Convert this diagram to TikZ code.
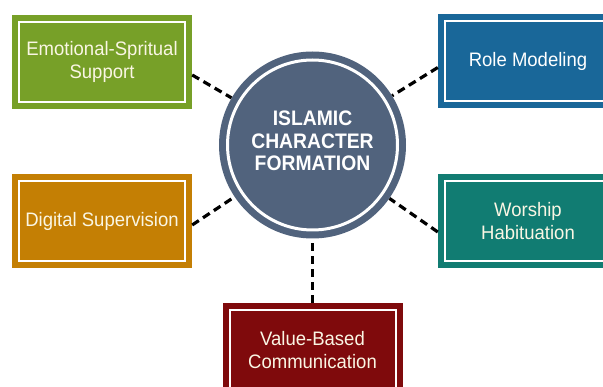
\documentclass[tikz,border=0pt]{standalone}
\usepackage{fontspec}
\setmainfont{Liberation Sans}
\newfontfamily\hubfont[FakeStretch=0.92]{Liberation Sans}
\newfontfamily\cardfont[FakeStretch=0.95]{Liberation Sans}
\definecolor{slate}{RGB}{81,99,125}
\definecolor{leaf}{RGB}{119,160,40}
\definecolor{ocean}{RGB}{25,103,153}
\definecolor{amber}{RGB}{196,127,4}
\definecolor{teal2}{RGB}{17,124,114}
\definecolor{maroon2}{RGB}{127,10,12}
\definecolor{cream}{RGB}{250,246,228}
\begin{document}
\begin{tikzpicture}[x=1pt,y=-1pt,
  card/.style={rectangle, fill=#1, minimum width=180pt, minimum height=94pt,
    inner sep=0pt, align=center, text=cream,
    font=\cardfont\fontsize{19.5}{22.5}\selectfont,
    path picture={\draw[white, line width=2pt]
      ([shift={(7pt,7pt)}]path picture bounding box.south west) rectangle
      ([shift={(-7pt,-7pt)}]path picture bounding box.north east);}},
  link/.style={draw=black, line width=3.2pt, dash pattern=on 8pt off 5pt},
  hub/.style={circle, fill=slate, minimum size=187pt, inner sep=0pt},
  hubtext/.style={align=center, text=white,
    font=\hubfont\bfseries\fontsize{21}{22.5}\selectfont}
]
\useasboundingbox (0,0) rectangle (603,387);
\fill[white] (0,0) rectangle (603,387);
\clip (0,0) rectangle (603,387);

% central hub
\node[hub] (c) at (312.5,145) {};
\draw[white, line width=3pt] (c.center) circle[radius=85pt];
\node[hubtext] (t) at (312.5,141) {ISLAMIC\\CHARACTER\\FORMATION};

% surrounding cards
\node[card=leaf] (emo) at (102,62) {Emotional-Spritual\\Support};
\node[card=ocean, text=white] (role) at (528,61.5) {Role Modeling};
\node[card=amber] (dig) at (102,221) {Digital Supervision};
\node[card=teal2] (wor) at (528,221) {Worship\\Habituation};
\node[card=maroon2] (val) at (312.5,350) {Value-Based\\Communication};

% dashed links to the hub
\draw[link] ([yshift=-13pt]emo.east) -- (c);
\draw[link] ([yshift=-6pt]role.west) -- (c);
\draw[link] ([yshift=-4pt]dig.east) -- (c);
\draw[link] ([yshift=-11pt]wor.west) -- (c);
\draw[link] (val.north) -- (c);
\end{tikzpicture}
\end{document}
